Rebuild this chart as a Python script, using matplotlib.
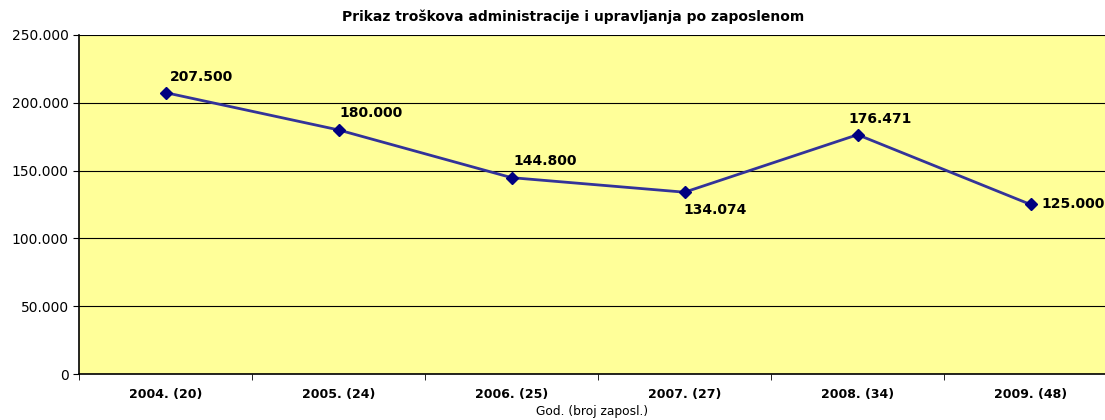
import matplotlib.pyplot as plt
from matplotlib.ticker import FuncFormatter

categories = ['2004. (20)', '2005. (24)', '2006. (25)', '2007. (27)', '2008. (34)', '2009. (48)']
values = [207500, 180000, 144800, 134074, 176471, 125000]
# label offsets in pixels relative to each point
offsets = [(4, 16), (1, 17), (2, 17), (-1, -18), (-9, 16), (11, 0)]

plt.rcParams['font.family'] = ['DejaVu Sans']

fig = plt.figure(figsize=(11.05, 4.2), dpi=100)
ax = fig.add_axes([79/1105, 46/420, 1 - 79/1105, 339/420])
ax.set_facecolor('#FFFF99')

x = list(range(len(categories)))
ax.plot(x, values, color='#333399', linewidth=2, marker='D', markersize=6,
        markerfacecolor='#000080', markeredgecolor='#000080', zorder=3)

for xi, v, (dx, dy) in zip(x, values, offsets):
    txt = f'{v:,}'.replace(',', '.')
    ax.annotate(txt, (xi, v), xytext=(dx, dy), textcoords='offset pixels',
                fontsize=10, fontweight='bold', ha='left', va='center')

ax.set_xlim(-0.5, 5.43)
ax.set_ylim(0, 250000)
ax.set_yticks(range(0, 250001, 50000))
ax.yaxis.set_major_formatter(FuncFormatter(lambda v, p: f'{int(v):,}'.replace(',', '.')))
ax.grid(axis='y', color='black', linewidth=0.8)
ax.set_axisbelow(True)

ax.set_xticks(x)
ax.set_xticklabels(categories, fontsize=9, fontweight='bold')
ax.set_xticks([i - 0.5 for i in range(len(categories))], minor=True)
ax.tick_params(axis='x', which='major', length=0, pad=10)
ax.tick_params(axis='x', which='minor', length=4, direction='out')
ax.tick_params(axis='y', labelsize=10, length=4, direction='out')

for s in ['top', 'right']:
    ax.spines[s].set_visible(False)
ax.spines['left'].set_linewidth(1.2)
ax.spines['bottom'].set_linewidth(1.2)

ax.set_xlabel('God. (broj zaposl.)', fontsize=8.8, labelpad=3)
fig.text(0.519, 0.96, 'Prikaz troškova administracije i upravljanja po zaposlenom',
         ha='center', va='center', fontsize=10, fontweight='bold')

fig.savefig('out.png', dpi=100)
